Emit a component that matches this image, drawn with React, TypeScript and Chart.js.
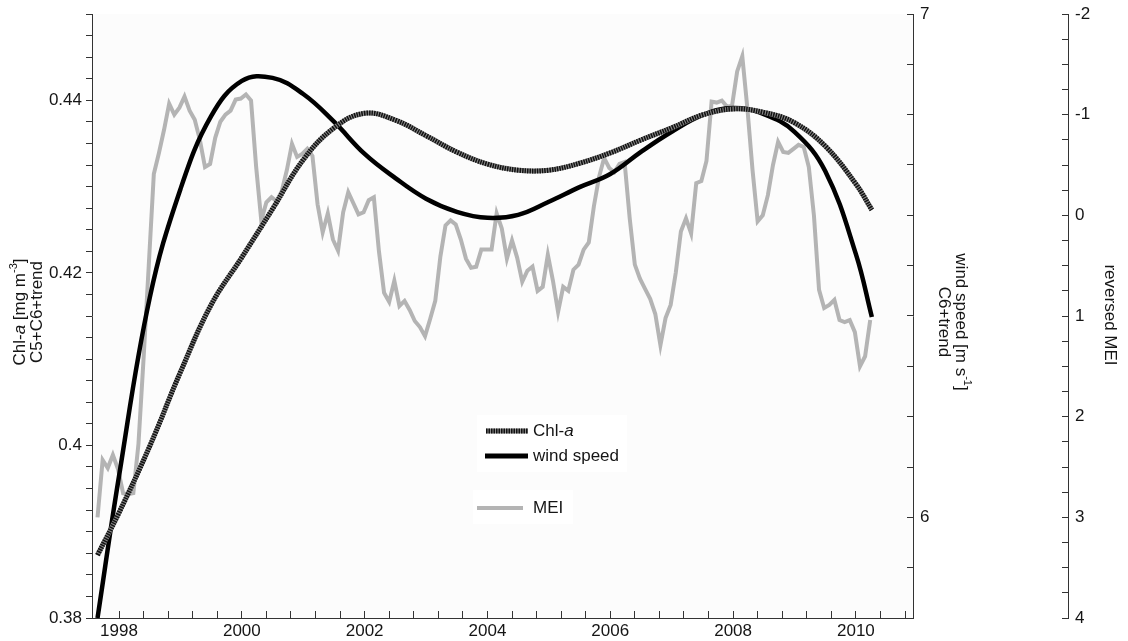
import React, { useEffect, useRef } from 'react';
import { Chart, registerables } from 'chart.js';

Chart.register(...registerables);

// ---- Data ----
// Monthly MEI (plotted on the reversed right-most axis), starting Aug 1997
const MEI_START = 1997.65;
const meiValues = [
  3.0, 2.43, 2.51, 2.38, 2.52, 2.76, 2.77, 2.76, 2.27, 1.42,
  0.51, -0.41, -0.62, -0.85, -1.11, -1.0, -1.07, -1.18, -1.04, -0.95,
  -0.75, -0.48, -0.51, -0.77, -0.93, -1.0, -1.04, -1.15, -1.16, -1.2,
  -1.14, -0.48, 0.05, -0.13, -0.18, -0.14, -0.24, -0.45, -0.71, -0.58,
  -0.61, -0.66, -0.59, -0.11, 0.17, -0.02, 0.24, 0.35, -0.03, -0.23,
  -0.12, -0.01, -0.03, -0.15, -0.18, 0.36, 0.77, 0.86, 0.65, 0.9,
  0.85, 0.94, 1.05, 1.11, 1.2, 1.03, 0.85, 0.41, 0.1, 0.05,
  0.09, 0.24, 0.43, 0.52, 0.51, 0.34, 0.34, 0.34, -0.02, 0.13,
  0.43, 0.25, 0.42, 0.66, 0.55, 0.51, 0.75, 0.71, 0.39, 0.65,
  0.96, 0.71, 0.75, 0.54, 0.49, 0.34, 0.27, -0.09, -0.38, -0.57,
  -0.47, -0.43, -0.51, -0.53, 0.03, 0.49, 0.63, 0.73, 0.83, 0.98,
  1.29, 1.02, 0.89, 0.57, 0.16, 0.03, 0.18, -0.32, -0.34, -0.54,
  -1.13, -1.12, -1.14, -1.08, -1.09, -1.43, -1.58, -1.06, -0.45, 0.06,
  0.0, -0.2, -0.5, -0.73, -0.63, -0.62, -0.66, -0.7, -0.68, -0.48,
  0.0, 0.74, 0.92, 0.89, 0.84, 1.04, 1.06, 1.04, 1.16, 1.5,
  1.4, 1.04,
];

// Smooth fitted curves, sampled at these years
const curveYears = [
  1997.65, 1998, 1998.5, 1999, 1999.5, 2000, 2000.5, 2001, 2001.5, 2002, 2002.5,
  2003, 2003.5, 2004, 2004.5, 2005, 2005.5, 2006, 2006.5, 2007, 2007.5, 2008,
  2008.5, 2009, 2009.5, 2010, 2010.26,
];
const chlValues = [
  0.3873, 0.3922, 0.3999, 0.4085, 0.4163, 0.4218, 0.4274, 0.4331, 0.4368, 0.4385,
  0.4377, 0.4359, 0.434, 0.4326, 0.4319, 0.4319, 0.4327, 0.4339, 0.4354, 0.4368,
  0.4383, 0.439, 0.4386, 0.4374, 0.4347, 0.4303, 0.4273,
];
const windValues = [
  5.8, 6.082, 6.436, 6.652, 6.797, 6.867, 6.873, 6.841, 6.786, 6.722, 6.674,
  6.633, 6.607, 6.595, 6.601, 6.627, 6.656, 6.682, 6.726, 6.766, 6.799, 6.813,
  6.801, 6.766, 6.688, 6.523, 6.398,
];

// Axis ranges and ticks
const X_MIN = 1997.56;
const X_MAX = 2010.93;
const X_TICK_START = 1998;
const X_TICK_STEP = 0.4;
const xTickLabels = ['1998', '2000', '2002', '2004', '2006', '2008', '2010'];

const CHL_MIN = 0.38;
const CHL_MAX = 0.45;
const CHL_STEP = 0.0025;
const chlTickLabels = ['0.38', '0.4', '0.42', '0.44'];

const WIND_MIN = 5.8;
const WIND_MAX = 7.0;
const WIND_STEP = 0.1;
const windTickLabels = ['6', '7'];

const MEI_MIN = -2;
const MEI_MAX = 4;
const MEI_STEP = 0.25;
const meiTickLabels = ['-2', '-1', '0', '1', '2', '3', '4'];

// ---- Styling ----
const FONT = '"Liberation Sans", Arial, Helvetica, sans-serif';
const TEXT = '#151515';
const AXIS = '#333333';

type Run = { t: string; it?: boolean; sup?: boolean };

function runFont(r: Run, size: number) {
  const s = r.sup ? Math.round(size * 0.65) : size;
  return `${r.it ? 'italic ' : ''}${s}px ${FONT}`;
}

function drawRuns(ctx: CanvasRenderingContext2D, runs: Run[], x: number, y: number, size: number, align: 'left' | 'center') {
  let total = 0;
  const widths = runs.map((r) => {
    ctx.font = runFont(r, size);
    const w = ctx.measureText(r.t).width;
    total += w;
    return w;
  });
  let cx = align === 'center' ? x - total / 2 : x;
  ctx.textBaseline = 'middle';
  ctx.textAlign = 'left';
  runs.forEach((r, i) => {
    ctx.font = runFont(r, size);
    ctx.fillText(r.t, cx, r.sup ? y - size * 0.38 : y);
    cx += widths[i];
  });
}

function makeTicks(min: number, max: number, step: number) {
  const out: { value: number }[] = [];
  const n = Math.round((max - min) / step);
  for (let i = 0; i <= n; i++) out.push({ value: +(min + i * step).toFixed(5) });
  return out;
}

function labelFor(list: string[]) {
  return (v: number | string) => {
    const num = typeof v === 'number' ? v : parseFloat(v);
    const hit = list.find((s) => Math.abs(parseFloat(s) - num) < 1e-6);
    return hit ?? '';
  };
}

function fixWidth(w: number) {
  return (s: any) => {
    s.width = w;
    s.paddingTop = 0;
    s.paddingBottom = 0;
  };
}

const decorPlugin = {
  id: 'decor',
  beforeDraw(chart: any) {
    const { ctx, chartArea: a } = chart;
    ctx.save();
    ctx.fillStyle = '#ffffff';
    ctx.fillRect(0, 0, chart.width, chart.height);
    ctx.fillStyle = '#fcfcfc';
    ctx.fillRect(a.left, a.top, a.right - a.left, a.bottom - a.top);
    ctx.restore();
  },
  afterDraw(chart: any) {
    const ctx: CanvasRenderingContext2D = chart.ctx;
    ctx.save();
    ctx.fillStyle = TEXT;

    // Left axis title
    ctx.save();
    ctx.translate(0, 312);
    ctx.rotate(-Math.PI / 2);
    drawRuns(ctx, [{ t: 'Chl-' }, { t: 'a', it: true }, { t: ' [mg m' }, { t: '-3', sup: true }, { t: ']' }], 0, 20, 17, 'center');
    drawRuns(ctx, [{ t: 'C5+C6+trend' }], 0, 37, 17, 'center');
    ctx.restore();

    // Wind axis title
    ctx.save();
    ctx.translate(0, 322);
    ctx.rotate(Math.PI / 2);
    drawRuns(ctx, [{ t: 'wind speed [m s' }, { t: '-1', sup: true }, { t: ']' }], 0, -961, 17, 'center');
    drawRuns(ctx, [{ t: 'C6+trend' }], 0, -944, 17, 'center');
    ctx.restore();

    // MEI axis title
    ctx.save();
    ctx.translate(0, 315);
    ctx.rotate(Math.PI / 2);
    drawRuns(ctx, [{ t: 'reversed MEI' }], 0, -1110, 17, 'center');
    ctx.restore();

    // Legend
    ctx.fillStyle = '#ffffff';
    ctx.fillRect(477, 415, 150, 57);
    ctx.fillRect(473, 490, 100, 34);

    ctx.lineCap = 'butt';
    // Chl-a sample
    ctx.lineWidth = 5;
    ctx.strokeStyle = '#8a8a8a';
    ctx.setLineDash([]);
    ctx.beginPath(); ctx.moveTo(486, 431); ctx.lineTo(528, 431); ctx.stroke();
    ctx.strokeStyle = '#111111';
    ctx.setLineDash([1.5, 1]);
    ctx.beginPath(); ctx.moveTo(486, 431); ctx.lineTo(528, 431); ctx.stroke();
    ctx.setLineDash([]);
    // wind sample
    ctx.lineWidth = 5;
    ctx.strokeStyle = '#000000';
    ctx.beginPath(); ctx.moveTo(485, 456); ctx.lineTo(528, 456); ctx.stroke();
    // MEI sample
    ctx.lineWidth = 4;
    ctx.strokeStyle = '#b4b4b4';
    ctx.beginPath(); ctx.moveTo(477, 508); ctx.lineTo(523, 508); ctx.stroke();

    ctx.fillStyle = TEXT;
    drawRuns(ctx, [{ t: 'Chl-' }, { t: 'a', it: true }], 533, 431, 17, 'left');
    drawRuns(ctx, [{ t: 'wind speed' }], 533, 456, 17, 'left');
    drawRuns(ctx, [{ t: 'MEI' }], 533, 508, 17, 'left');

    ctx.restore();
  },
};

const tickFont = { family: FONT, size: 17 };

export default function App() {
  const ref = useRef<HTMLCanvasElement | null>(null);

  useEffect(() => {
    if (!ref.current) return;
    const meiData = meiValues.map((v, i) => ({ x: MEI_START + i / 12, y: v }));
    const chlData = curveYears.map((x, i) => ({ x, y: chlValues[i] }));
    const windData = curveYears.map((x, i) => ({ x, y: windValues[i] }));

    const chart = new Chart(ref.current, {
      type: 'line',
      data: {
        datasets: [
          {
            label: 'Chl-a',
            data: chlData,
            yAxisID: 'yChl',
            borderColor: '#111111',
            borderWidth: 5,
            borderDash: [1.5, 1],
            borderCapStyle: 'butt',
            pointRadius: 0,
            tension: 0.4,
          },
          {
            label: 'Chl-a base',
            data: chlData,
            yAxisID: 'yChl',
            borderColor: '#8a8a8a',
            borderWidth: 5,
            pointRadius: 0,
            tension: 0.4,
          },
          {
            label: 'wind speed',
            data: windData,
            yAxisID: 'yWind',
            borderColor: '#000000',
            borderWidth: 4.5,
            pointRadius: 0,
            tension: 0.4,
          },
          {
            label: 'MEI',
            data: meiData,
            yAxisID: 'yMei',
            borderColor: '#b4b4b4',
            borderWidth: 4,
            pointRadius: 0,
            tension: 0,
          },
        ],
      } as any,
      options: {
        responsive: false,
        devicePixelRatio: 1,
        animation: false,
        layout: { padding: { top: 14, left: 0, right: 0, bottom: 0 } },
        plugins: { legend: { display: false }, tooltip: { enabled: false } },
        scales: {
          x: {
            type: 'linear',
            position: 'bottom',
            min: X_MIN,
            max: X_MAX,
            afterBuildTicks: (s: any) => {
              const out: { value: number }[] = [];
              for (let v = X_TICK_START; v <= X_MAX + 1e-9; v += X_TICK_STEP) out.push({ value: +v.toFixed(4) });
              s.ticks = out;
            },
            afterFit: (s: any) => {
              s.height = 23;
              s.paddingLeft = 0;
              s.paddingRight = 0;
            },
            ticks: {
              autoSkip: false,
              maxRotation: 0,
              padding: 10,
              color: TEXT,
              font: tickFont,
              callback: labelFor(xTickLabels),
            },
            grid: { drawOnChartArea: false, tickLength: -7, tickColor: AXIS },
            border: { color: AXIS, width: 1 },
          },
          yChl: {
            type: 'linear',
            position: 'left',
            min: CHL_MIN,
            max: CHL_MAX,
            afterBuildTicks: (s: any) => { s.ticks = makeTicks(CHL_MIN, CHL_MAX, CHL_STEP); },
            afterFit: fixWidth(92),
            ticks: { autoSkip: false, padding: 4, color: TEXT, font: tickFont, callback: labelFor(chlTickLabels) },
            grid: { drawOnChartArea: false, tickLength: 6, tickColor: AXIS },
            border: { color: AXIS, width: 1 },
          },
          yWind: {
            type: 'linear',
            position: 'right',
            weight: 0,
            min: WIND_MIN,
            max: WIND_MAX,
            afterBuildTicks: (s: any) => { s.ticks = makeTicks(WIND_MIN, WIND_MAX, WIND_STEP); },
            afterFit: fixWidth(155),
            ticks: { autoSkip: false, padding: 13, color: TEXT, font: tickFont, callback: labelFor(windTickLabels) },
            grid: { drawOnChartArea: false, tickLength: -6, tickColor: AXIS },
            border: { color: AXIS, width: 1 },
          },
          yMei: {
            type: 'linear',
            position: 'right',
            weight: 1,
            reverse: true,
            min: MEI_MIN,
            max: MEI_MAX,
            afterBuildTicks: (s: any) => { s.ticks = makeTicks(MEI_MIN, MEI_MAX, MEI_STEP); },
            afterFit: fixWidth(60),
            ticks: { autoSkip: false, padding: 13, color: TEXT, font: tickFont, callback: labelFor(meiTickLabels) },
            grid: { drawOnChartArea: false, tickLength: -6, tickColor: AXIS },
            border: { color: AXIS, width: 1 },
          },
        },
      } as any,
      plugins: [decorPlugin],
    });

    return () => chart.destroy();
  }, []);

  return (
    <canvas
      ref={ref}
      width={1128}
      height={641}
      style={{ position: 'fixed', left: 0, top: 0, width: 1128, height: 641, display: 'block' }}
    />
  );
}
